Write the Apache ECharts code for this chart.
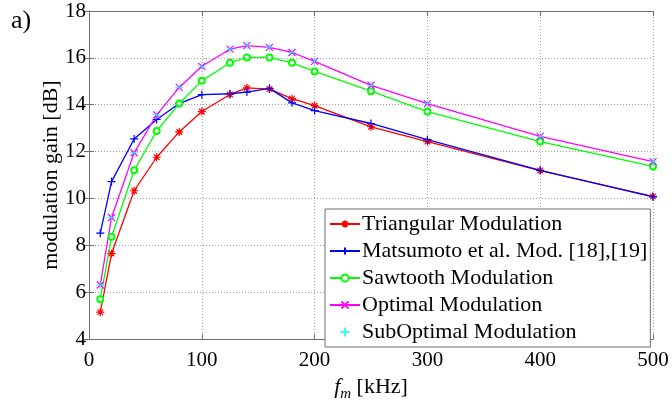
<!DOCTYPE html>
<html><head><meta charset="utf-8">
<script src="https://cdn.jsdelivr.net/npm/echarts@6/dist/echarts.min.js"></script>
<style>html,body{margin:0;padding:0;background:#fff}#c{width:672px;height:407px}</style>
</head><body><div id="c"></div>
<script>
const fm = [10, 20, 40, 60, 80, 100, 125, 140, 160, 180, 200, 250, 300, 400, 500];
const triangular = [5.15, 7.65, 10.33, 11.76, 12.84, 13.71, 14.44, 14.72, 14.67, 14.26, 13.96, 13.06, 12.43, 11.19, 10.09];
const matsumoto = [8.52, 10.72, 12.54, 13.37, 14.05, 14.43, 14.47, 14.54, 14.70, 14.08, 13.75, 13.20, 12.51, 11.20, 10.07];
const sawtooth = [5.70, 8.37, 11.20, 12.88, 14.05, 15.02, 15.79, 16.02, 16.02, 15.79, 15.42, 14.58, 13.71, 12.43, 11.37];
const optimal = [6.31, 9.19, 11.95, 13.57, 14.74, 15.64, 16.37, 16.52, 16.45, 16.23, 15.85, 14.83, 14.05, 12.65, 11.57];
const subOptimal = [6.31, 9.19, 11.95, 13.57, 14.74, 15.64, 16.37, 16.52, 16.45, 16.23, 15.85, 14.83, 14.05, 12.65, 11.57];
const names = ['Triangular Modulation', 'Matsumoto et al. Mod. [18],[19]', 'Sawtooth Modulation', 'Optimal Modulation', 'SubOptimal Modulation'];
const xTicks = [0, 100, 200, 300, 400, 500];
const yTicks = [4, 6, 8, 10, 12, 14, 16, 18];

const SER = '"Liberation Serif", serif';
const pair = arr => fm.map((x, i) => [x, arr[i]]);
const ASTER = 'path://M5,0L5,10M0,5L10,5M1.5,1.5L8.5,8.5M8.5,1.5L1.5,8.5';
const PLUS = 'path://M5,0L5,10M0,5L10,5';
const CROSS = 'path://M0,0L10,10M10,0L0,10';

function lineSeries(name, data, color, symbol, size) {
  return {
    type: 'line', name, data: pair(data), symbol, symbolSize: size,
    lineStyle: {color, width: 1.3},
    itemStyle: {color, borderColor: color, borderWidth: 1.2},
    emphasis: {disabled: true}, animation: false, z: 3
  };
}
const axisCommon = {
  type: 'value',
  axisLine: {show: true, lineStyle: {color: '#6e6e6e', width: 1}},
  axisTick: {show: true, inside: true, length: 5, lineStyle: {color: '#6e6e6e'}},
};
const chart = echarts.init(document.getElementById('c'));
chart.setOption({
  animation: false,
  backgroundColor: '#fff',
  grid: {left: 89, right: 19, top: 11, bottom: 57},
  graphic: [{type: 'text', left: 11, top: 8, style: {text: 'a)', font: '26px "Liberation Serif"', fill: '#000'}}],
  xAxis: [
    Object.assign({}, axisCommon, {min: 0, max: 500, interval: 100, position: 'bottom',
      axisLabel: {fontFamily: SER, fontSize: 21, color: '#000', margin: 11},
      splitLine: {show: true, lineStyle: {color: '#a0a0a0', type: [1, 2], width: 1}},
      name: '{f|f}{m|m} [kHz]', nameLocation: 'middle', nameGap: 32,
      nameTextStyle: {fontFamily: SER, fontSize: 22, color: '#000',
        rich: {f: {fontFamily: SER, fontSize: 22, fontStyle: 'italic'},
               m: {fontFamily: SER, fontSize: 15, fontStyle: 'italic', padding: [15, 0, 0, 0]}}}}),
    Object.assign({}, axisCommon, {min: 0, max: 500, interval: 100, position: 'top',
      axisLabel: {show: false}, splitLine: {show: false}})
  ],
  yAxis: [
    Object.assign({}, axisCommon, {min: 4, max: 18, interval: 2, position: 'left',
      axisLabel: {fontFamily: SER, fontSize: 21, color: '#000', margin: 3},
      splitLine: {show: true, lineStyle: {color: '#a0a0a0', type: [1, 2], width: 1}},
      name: 'modulation gain [dB]', nameLocation: 'middle', nameGap: 27, nameMoveOverlap: false,
      nameTextStyle: {fontFamily: SER, fontSize: 22, color: '#000'}}),
    Object.assign({}, axisCommon, {min: 4, max: 18, interval: 2, position: 'right',
      axisLabel: {show: false}, splitLine: {show: false}})
  ],
  legend: {
    orient: 'vertical', left: 325, top: 209,
    data: names,
    itemWidth: 30, itemHeight: 9, itemGap: 5,
    padding: [4, 3, 4, 4],
    backgroundColor: '#fff', borderColor: '#6e6e6e', borderWidth: 1, borderRadius: 0,
    textStyle: {fontFamily: SER, fontSize: 22, color: '#000', padding: [0, 0, 0, -3]},
    selectedMode: false
  },
  series: [
    lineSeries(names[0], triangular, '#ff0000', ASTER, 8),
    lineSeries(names[1], matsumoto, '#0000ff', PLUS, 8),
    lineSeries(names[2], sawtooth, '#00ff00', 'emptyCircle', 6),
    lineSeries(names[3], optimal, '#ff00ff', CROSS, 7),
    {type: 'scatter', name: names[4], data: pair(subOptimal), symbol: PLUS, symbolSize: 8,
     itemStyle: {color: '#00ffff', borderColor: '#00ffff', borderWidth: 1},
     emphasis: {disabled: true}, animation: false, z: 4}
  ]
});
</script></body></html>
